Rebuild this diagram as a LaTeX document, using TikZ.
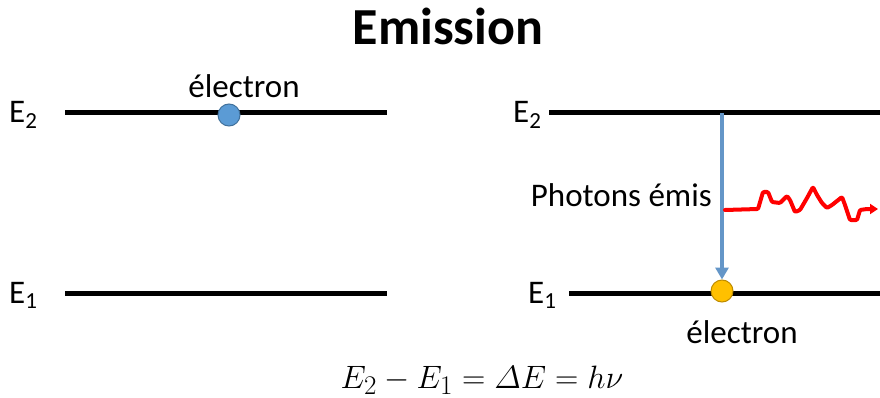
\documentclass[tikz,border=0pt]{standalone}
\usepackage{amsmath}
\usepackage{fontspec}
\setmainfont{Carlito}
\usetikzlibrary{arrows.meta}
\definecolor{cDotBlue}{RGB}{91,155,213}
\definecolor{cDotBlueEdge}{RGB}{65,113,156}
\definecolor{cDotGold}{RGB}{255,192,0}
\definecolor{cDotGoldEdge}{RGB}{190,140,0}
\definecolor{cArrow}{RGB}{100,150,200}
\newcommand{\lvlname}[1]{E\raisebox{-0.32ex}{\fontsize{23}{23}\selectfont #1}}

\begin{document}
\begin{tikzpicture}[
      x=1pt, y=-1pt,
      lvl/.style={line width=5pt},
      lbl/.style={font=\fontsize{33}{40}\selectfont, inner sep=0pt},
      dot/.style={circle, minimum size=22pt, inner sep=0pt, line width=1pt},
      >={Triangle[length=12pt, width=13pt]}]
    \useasboundingbox (0,0) rectangle (880,398);
    \node[font=\fontsize{52}{60}\selectfont\bfseries, inner sep=0pt, anchor=base] (title) at (448,45) {Emission};
    % left panel
    \coordinate (l2a) at (65,113); \coordinate (l2b) at (387,113);
    \coordinate (l1a) at (65,293); \coordinate (l1b) at (387,293);
    \draw[lvl] (l2a) -- (l2b);
    \draw[lvl] (l1a) -- (l1b);
    \node[lbl, anchor=base west] (lE2) at (9,123) {\lvlname{2}};
    \node[lbl, anchor=base west] (lE1) at (9,303) {\lvlname{1}};
    \node[dot, fill=cDotBlue, draw=cDotBlueEdge] (eup) at (229,115) {};
    \node[lbl, anchor=base] (lelec) at (244,98) {électron};
    % right panel
    \coordinate (r2a) at (549,113); \coordinate (r2b) at (880,113);
    \coordinate (r1a) at (569,293); \coordinate (r1b) at (880,293);
    \draw[lvl] (r2a) -- (r2b);
    \draw[lvl] (r1a) -- (r1b);
    \node[lbl, anchor=base west] (rE2) at (513,123) {\lvlname{2}};
    \node[lbl, anchor=base west] (rE1) at (528,303) {\lvlname{1}};
    \coordinate (top) at (722,113);
    \node[dot, fill=cDotGold, draw=cDotGoldEdge] (edown) at (722,291) {};
    \draw[->, cArrow, line width=3.5pt] (top) -- (edown.north);
    \node[lbl, anchor=base east] (phot) at (712,207) {Photons émis};
    \node[lbl, anchor=base] (relec) at (742,343) {électron};
    % photon wave
    \coordinate (w0) at (725,210);
    \coordinate (w1) at (878,209);
    \draw[->, red, line width=4pt, line join=round, line cap=round, rounded corners=1pt,
          >={Triangle[length=8pt, width=10pt]}]
      (w0) -- (758,209) -- (763,192) -- (768,192) -- (772,202) -- (780,203)
      -- (787,196) -- (790,200) -- (795,212) -- (800,210) -- (807,198)
      -- (813,187) -- (817,195) -- (822,203) -- (827,208) -- (832,205)
      -- (842,197) -- (845,205) -- (850,220) -- (857,220) -- (860,210)
      -- (867,209) -- (w1);
    \node[font=\fontsize{24.88}{30}\selectfont, inner sep=0pt, anchor=base] (eq) at (482,388)
      {\scalebox{1.3}{$E_2-E_1=\varDelta E=h\nu$}};
  \end{tikzpicture}
\end{document}
